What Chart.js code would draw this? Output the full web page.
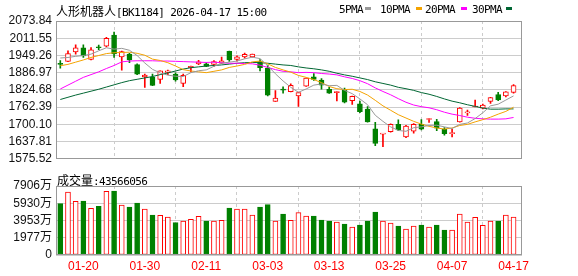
<!DOCTYPE html>
<html>
<head>
<meta charset="utf-8">
<script src="https://cdn.jsdelivr.net/npm/chart.js@4.4.1/dist/chart.umd.min.js"></script>
<style>
  body { margin: 0; background: #fff; }
  #wrap { position: relative; width: 578px; height: 276px; overflow: hidden; background: #fff; }
  canvas { position: absolute; left: 0; }
  .t { position: absolute; white-space: nowrap; line-height: 13px; color: #000; }
  .cjk { font: 12px "Noto Sans CJK SC", sans-serif; }
  .mono { font: 11px "DejaVu Sans Mono", monospace; letter-spacing: -0.6px; }
  .mk { position: absolute; width: 6px; height: 3px; top: 7px; }
</style>
</head>
<body>
<div id="wrap">
  <canvas id="kline" width="578" height="170" style="top:0"></canvas>
  <canvas id="vol" width="578" height="106" style="top:170px"></canvas>

  <div class="t" style="left:56px;top:2px"><span class="cjk">人形机器人</span><span class="mono">[BK1184] 2026-04-17 15:00</span></div>

  <div class="t mono" style="left:339px;top:3px">5PMA</div><div class="mk" style="left:365px;background:#999"></div>
  <div class="t mono" style="left:380px;top:3px">10PMA</div><div class="mk" style="left:416px;background:#f4a300"></div>
  <div class="t mono" style="left:425px;top:3px">20PMA</div><div class="mk" style="left:461px;background:#ff00ff"></div>
  <div class="t mono" style="left:472px;top:3px">30PMA</div><div class="mk" style="left:506px;background:#006633"></div>

  <div class="t" style="left:57px;top:171px"><span class="cjk">成交量</span><span class="mono">:43566056</span></div>
</div>

<script>
// trading days shown
const dates = [
  '01-15','01-16','01-19','01-20','01-21','01-22','01-23','01-26','01-27','01-28','01-29','01-30',
  '02-02','02-03','02-04','02-05','02-06','02-09','02-10','02-11','02-12','02-13',
  '02-24','02-25','02-26','02-27',
  '03-02','03-03','03-04','03-05','03-06','03-09','03-10','03-11','03-12','03-13',
  '03-16','03-17','03-18','03-19','03-20','03-23','03-24','03-25','03-26','03-27','03-30','03-31',
  '04-01','04-02','04-03','04-07','04-08','04-09','04-10','04-13','04-14','04-15','04-16','04-17'
];

const open = [1920,1928,1962,1977,1935,1980,1983,2023,1944,1954, 1916,1872,1871,1863,1888,1882,1848,1905,1919,1919,
  1917,1921,1964,1935,1944,1944,1927,1904,1783,1828, 1818,1803,1838,1872,1860,1827,1815,1826,1786,1774,
  1755,1684,1665,1674,1700,1655,1675,1700,1718,1710, 1683,1667,1709,1742,1763,1759,1783,1808,1803,1816];
const high = [1931,1966,1988,1988,1978,1987,2015,2034,1965,1957, 1919,1882,1882,1894,1896,1886,1882,1911,1932,1923,
  1931,1943,1965,1948,1958,1954,1934,1914,1822,1836, 1847,1817,1867,1884,1866,1834,1819,1831,1802,1784,
  1764,1707,1668,1702,1716,1697,1703,1717,1721,1718, 1688,1683,1761,1752,1788,1773,1798,1816,1819,1844];
const low = [1903,1927,1954,1942,1933,1970,1980,1942,1896,1923, 1880,1834,1840,1848,1880,1856,1836,1890,1916,1909,
  1910,1920,1928,1929,1939,1943,1893,1803,1783,1813, 1817,1765,1837,1859,1827,1812,1785,1778,1772,1742,
  1708,1623,1619,1672,1677,1652,1668,1680,1707,1677, 1661,1655,1708,1732,1763,1756,1776,1786,1799,1813];
const close = [1918,1956,1977,1948,1970,1978,2011,1955,1963,1933, 1882,1878,1841,1894,1894,1861,1877,1910,1926,1910,
  1927,1930,1933,1944,1953,1954,1905,1806,1795,1824, 1841,1815,1867,1863,1842,1813,1819,1780,1801,1746,
  1709,1631,1668,1700,1680,1694,1700,1683,1721,1686, 1666,1670,1759,1745,1766,1770,1797,1788,1818,1840];

const ma5 = [1940,1942,1946,1949,1954,1966,1977,1972,1975,1968, 1949,1922,1899,1886,1878,1874,1873,1887,1894,1897,
  1910,1921,1925,1929,1937,1943,1938,1912,1883,1857, 1834,1816,1828,1842,1846,1840,1841,1823,1811,1792,
  1771,1733,1711,1691,1678,1675,1688,1691,1696,1697, 1691,1685,1700,1705,1721,1742,1767,1773,1788,1803];
const ma10 = [1912,1917,1925,1933,1942,1949,1956,1959,1960,1961, 1957,1950,1936,1931,1923,1911,1898,1893,1890,1887,
  1892,1897,1906,1911,1917,1926,1929,1919,1906,1897, 1889,1877,1870,1862,1851,1837,1829,1826,1827,1819,
  1806,1787,1767,1751,1735,1723,1711,1701,1693,1687, 1683,1687,1696,1700,1709,1717,1726,1737,1747,1762];
const ma20 = [1828,1842,1856,1870,1880,1890,1902,1913,1926,1929, 1930,1930,1930,1929,1929,1928,1927,1926,1925,1924,
  1925,1923,1921,1921,1920,1919,1914,1906,1898,1892, 1890,1887,1888,1887,1884,1882,1879,1872,1866,1858,
  1847,1832,1819,1807,1793,1780,1770,1764,1760,1753, 1744,1737,1732,1726,1722,1720,1719,1719,1720,1725];
const ma30 = [1790,1798,1806,1813,1820,1827,1835,1843,1851,1858, 1863,1868,1873,1880,1886,1893,1900,1905,1908,1911,
  1913,1915,1918,1921,1923,1924,1923,1921,1918,1915, 1913,1908,1904,1901,1897,1892,1885,1879,1874,1868,
  1862,1854,1848,1842,1834,1829,1823,1815,1809,1801, 1792,1784,1778,1771,1765,1759,1755,1755,1756,1756];

// volume in 万
const volume = [5881,7218,6149,6187,5347,5576,7294,7332,5729,5499, 5958,5270,4583,4545,4354,3704,3895,4086,4430,3895,
  3895,3972,5385,5270,5270,4583,5499,5767,3895,4697, 3972,4850,4468,4468,4010,3895,3781,3552,3208,3437,
  3895,4927,3895,3666,3323,2979,3323,3437,3208,3437, 2864,2864,4697,3781,4315,3399,3895,3895,4583,4357];

const priceTicks = [1575.52,1637.81,1700.10,1762.39,1824.68,1886.97,1949.26,2011.55,2073.84];
const volTicks = [0,1976.5,3953,5929.5,7906];
const volTickLabels = ['0','1977万','3953万','5930万','7906万'];
const xTickIdx = [3,11,19,27,35,43,51,59];

const RED = '#ff0000';
const GREEN = '#008000';
const GRID = '#cccccc';
const up = close.map((c, i) => c >= open[i]);
const colors = up.map(u => u ? RED : GREEN);

const frame = {
  id: 'frame',
  afterDraw(chart) {
    const { ctx, chartArea: a } = chart;
    ctx.save();
    ctx.strokeStyle = '#999999';
    ctx.lineWidth = 1;
    ctx.strokeRect(Math.round(a.left) + 0.5, Math.round(a.top) + 0.5,
      Math.round(a.right - a.left) - 1, Math.round(a.bottom - a.top) - 1);
    ctx.restore();
  }
};

const tickFont = { family: "'Liberation Sans', 'Noto Sans CJK SC', sans-serif", size: 12 };

function xAxis(showLabels, h) {
  return {
    type: 'linear',
    min: -0.56,
    max: 60.1,
    offset: false,
    afterBuildTicks: s => { s.ticks = xTickIdx.map(v => ({ value: v })); },
    afterFit: s => { s.height = h; },
    grid: { color: GRID, drawTicks: false },
    border: { display: false, dash: [3, 3] },
    ticks: {
      display: showLabels,
      autoSkip: false,
      maxRotation: 0,
      padding: 4,
      color: RED,
      font: tickFont,
      callback: v => dates[v]
    }
  };
}

function yAxis(min, max, ticks, label) {
  return {
    min: min,
    max: max,
    afterBuildTicks: s => { s.ticks = ticks.map(v => ({ value: v })); },
    afterFit: s => { s.width = 56; },
    grid: { color: GRID, drawTicks: false },
    border: { display: false },
    ticks: { autoSkip: false, padding: 4, color: '#111', font: tickFont, callback: label }
  };
}

function line(data, color) {
  return {
    type: 'line',
    data: data.map((v, i) => ({ x: i, y: v })),
    borderColor: color,
    borderWidth: 1,
    pointRadius: 0,
    tension: 0,
    order: 1
  };
}

new Chart(document.getElementById('kline'), {
  type: 'bar',
  data: {
    datasets: [
      {
        data: dates.map((d, i) => ({ x: i, y: [low[i], high[i]] })),
        backgroundColor: colors,
        borderWidth: 0,
        barThickness: 1,
        grouped: false,
        order: 3
      },
      {
        // bodies: keep at least ~1px tall so crosses show
        data: dates.map((d, i) => {
          let lo = Math.min(open[i], close[i]), hi = Math.max(open[i], close[i]);
          if (hi - lo < 3.5) { const m = (hi + lo) / 2; lo = m - 1.75; hi = m + 1.75; }
          return { x: i, y: [lo, hi] };
        }),
        backgroundColor: up.map(u => u ? '#ffffff' : GREEN),
        borderColor: colors,
        borderWidth: 1,
        borderSkipped: false,
        barThickness: 5,
        grouped: false,
        order: 2
      },
      line(ma5, '#999999'),
      line(ma10, '#f4a300'),
      line(ma20, '#ff00ff'),
      line(ma30, '#006633')
    ]
  },
  options: {
    responsive: false,
    devicePixelRatio: 1,
    animation: false,
    layout: { padding: { left: 0, right: 56, top: 21, bottom: 4 } },
    plugins: { legend: { display: false }, tooltip: { enabled: false } },
    scales: {
      x: xAxis(false, 0),
      y: yAxis(1575.52, 2073.84, priceTicks, v => v.toFixed(2))
    }
  },
  plugins: [frame]
});

new Chart(document.getElementById('vol'), {
  type: 'bar',
  data: {
    datasets: [{
      data: volume.map((v, i) => ({ x: i, y: v })),
      backgroundColor: up.map(u => u ? '#ffffff' : GREEN),
      borderColor: colors,
      borderWidth: 1,
      borderSkipped: false,
      barThickness: 5,
      grouped: false
    }]
  },
  options: {
    responsive: false,
    devicePixelRatio: 1,
    animation: false,
    layout: { padding: { left: 0, right: 56, top: 16, bottom: 0 } },
    plugins: { legend: { display: false }, tooltip: { enabled: false } },
    scales: {
      x: xAxis(true, 21),
      y: yAxis(0, 7906, volTicks, (v, i) => volTickLabels[i])
    }
  },
  plugins: [frame]
});
</script>
</body>
</html>
